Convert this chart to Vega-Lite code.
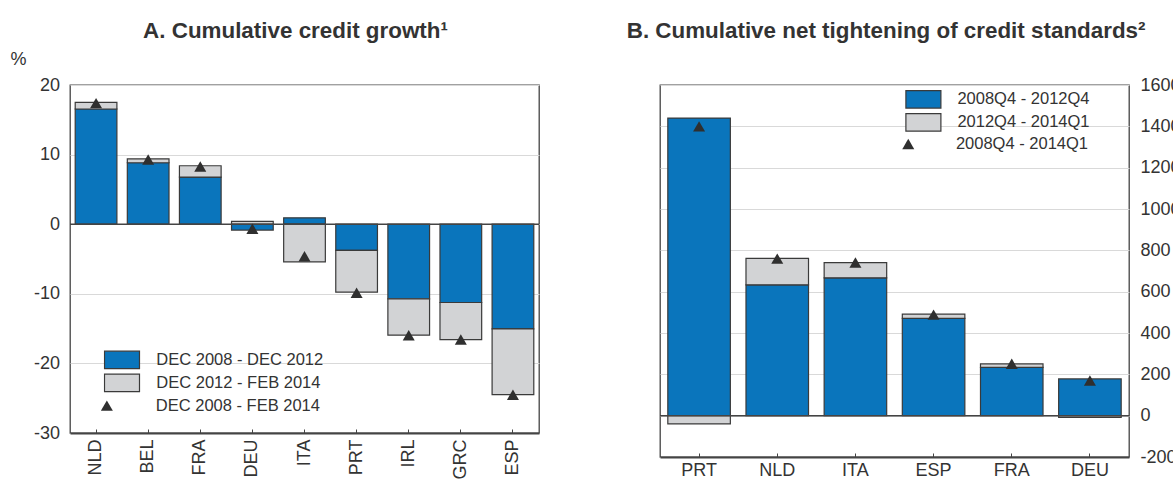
{
  "$schema": "https://vega.github.io/schema/vega-lite/v6.json",
  "background": "white",
  "padding": {"left": 9, "top": 18, "right": 0, "bottom": 0},
  "bounds": "flush",
  "spacing": 121,
  "config": {
    "font": "Liberation Sans",
    "view": {"stroke": "#444444", "strokeWidth": 1.3},
    "axis": {"labelFont": "Liberation Sans", "labelFontSize": 18, "labelColor": "#333333", "titleFont": "Liberation Sans", "gridColor": "#d9d9d9", "gridWidth": 1, "domainColor": "#444444"},
    "title": {"font": "Liberation Sans", "fontSize": 22.4, "fontWeight": "bold", "color": "#333333", "frame": "group"},
    "legend": {"labelFont": "Liberation Sans", "labelFontSize": 16.5, "labelColor": "#333333", "padding": 0, "labelLimit": 400}
  },
  "datasets": {
    "creditBars": [
      {"country": "NLD", "period": "DEC 2008 - DEC 2012", "value": 16.55},
      {"country": "NLD", "period": "DEC 2012 - FEB 2014", "value": 0.95},
      {"country": "BEL", "period": "DEC 2008 - DEC 2012", "value": 8.83},
      {"country": "BEL", "period": "DEC 2012 - FEB 2014", "value": 0.57},
      {"country": "FRA", "period": "DEC 2008 - DEC 2012", "value": 6.77},
      {"country": "FRA", "period": "DEC 2012 - FEB 2014", "value": 1.63},
      {"country": "DEU", "period": "DEC 2008 - DEC 2012", "value": -0.85},
      {"country": "DEU", "period": "DEC 2012 - FEB 2014", "value": 0.4},
      {"country": "ITA", "period": "DEC 2008 - DEC 2012", "value": 0.92},
      {"country": "ITA", "period": "DEC 2012 - FEB 2014", "value": -5.4},
      {"country": "PRT", "period": "DEC 2008 - DEC 2012", "value": -3.77},
      {"country": "PRT", "period": "DEC 2012 - FEB 2014", "value": -6.0},
      {"country": "IRL", "period": "DEC 2008 - DEC 2012", "value": -10.72},
      {"country": "IRL", "period": "DEC 2012 - FEB 2014", "value": -5.23},
      {"country": "GRC", "period": "DEC 2008 - DEC 2012", "value": -11.25},
      {"country": "GRC", "period": "DEC 2012 - FEB 2014", "value": -5.32},
      {"country": "ESP", "period": "DEC 2008 - DEC 2012", "value": -15.04},
      {"country": "ESP", "period": "DEC 2012 - FEB 2014", "value": -9.44}
    ],
    "creditTotals": [
      {"country": "NLD", "series": "DEC 2008 - FEB 2014", "total": 17.4},
      {"country": "BEL", "series": "DEC 2008 - FEB 2014", "total": 9.3},
      {"country": "FRA", "series": "DEC 2008 - FEB 2014", "total": 8.3},
      {"country": "DEU", "series": "DEC 2008 - FEB 2014", "total": -0.65},
      {"country": "ITA", "series": "DEC 2008 - FEB 2014", "total": -4.6},
      {"country": "PRT", "series": "DEC 2008 - FEB 2014", "total": -9.84},
      {"country": "IRL", "series": "DEC 2008 - FEB 2014", "total": -15.95},
      {"country": "GRC", "series": "DEC 2008 - FEB 2014", "total": -16.57},
      {"country": "ESP", "series": "DEC 2008 - FEB 2014", "total": -24.5}
    ],
    "tightBars": [
      {"country": "PRT", "period": "2008Q4 - 2012Q4", "value": 1440},
      {"country": "PRT", "period": "2012Q4 - 2014Q1", "value": -40},
      {"country": "NLD", "period": "2008Q4 - 2012Q4", "value": 633},
      {"country": "NLD", "period": "2012Q4 - 2014Q1", "value": 128},
      {"country": "ITA", "period": "2008Q4 - 2012Q4", "value": 667},
      {"country": "ITA", "period": "2012Q4 - 2014Q1", "value": 74},
      {"country": "ESP", "period": "2008Q4 - 2012Q4", "value": 471},
      {"country": "ESP", "period": "2012Q4 - 2014Q1", "value": 20},
      {"country": "FRA", "period": "2008Q4 - 2012Q4", "value": 234},
      {"country": "FRA", "period": "2012Q4 - 2014Q1", "value": 17},
      {"country": "DEU", "period": "2008Q4 - 2012Q4", "value": 178},
      {"country": "DEU", "period": "2012Q4 - 2014Q1", "value": -8}
    ],
    "tightTotals": [
      {"country": "PRT", "series": "2008Q4 - 2014Q1", "total": 1400},
      {"country": "NLD", "series": "2008Q4 - 2014Q1", "total": 760},
      {"country": "ITA", "series": "2008Q4 - 2014Q1", "total": 741},
      {"country": "ESP", "series": "2008Q4 - 2014Q1", "total": 489},
      {"country": "FRA", "series": "2008Q4 - 2014Q1", "total": 251},
      {"country": "DEU", "series": "2008Q4 - 2014Q1", "total": 170}
    ]
  },
  "hconcat": [
    {
      "width": 469,
      "height": 348,
      "title": {"text": "A. Cumulative credit growth¹", "dx": -9, "offset": 8},
      "layer": [
        {
          "data": {"name": "creditBars"},
          "mark": {"type": "bar", "stroke": "#3a3a3a", "strokeWidth": 1.2},
          "encoding": {
            "x": {"field": "country", "type": "nominal",
                  "scale": {"domain": ["NLD", "BEL", "FRA", "DEU", "ITA", "PRT", "IRL", "GRC", "ESP"], "paddingInner": 0.2, "paddingOuter": 0.1},
                  "axis": {"title": null, "labelAngle": -90, "tickSize": -4, "tickColor": "#444444", "labelPadding": 10, "domain": true, "domainWidth": 2, "grid": false}},
            "y": {"field": "value", "type": "quantitative", "stack": "zero",
                  "scale": {"domain": [-30, 20], "nice": false},
                  "axis": {"values": [-30, -20, -10, 0, 10, 20], "labelExpr": "'' + datum.value", "grid": true, "ticks": false, "domain": false, "labelPadding": 10.5,
                           "title": "%", "titleAngle": 0, "titleX": -60, "titleY": -26, "titleAlign": "left", "titleBaseline": "middle", "titleFontSize": 18, "titleFontWeight": "normal", "titleColor": "#333333"}},
            "color": {"field": "period", "type": "nominal",
                      "scale": {"domain": ["DEC 2008 - DEC 2012", "DEC 2012 - FEB 2014"], "range": ["#0a75bc", "#d2d3d5"]},
                      "legend": {"title": null, "orient": "none", "legendX": 33.5, "legendY": 263.6, "symbolType": "M-1,-0.5H1V0.5H-1Z", "symbolSize": 1225, "symbolStrokeColor": "#3a3a3a", "symbolStrokeWidth": 1.2, "clipHeight": 22.7, "rowPadding": 0, "labelOffset": 15.8}},
            "order": {"field": "period", "sort": "ascending"}
          }
        },
        {
          "data": {"values": [{}]},
          "mark": {"type": "rule", "color": "#444444", "strokeWidth": 1.5},
          "encoding": {"y": {"datum": 0}}
        },
        {
          "data": {"name": "creditTotals"},
          "mark": {"type": "point", "filled": true, "color": "#2f2f2f", "size": 144, "opacity": 1},
          "encoding": {
            "x": {"field": "country", "type": "nominal"},
            "y": {"field": "total", "type": "quantitative"},
            "shape": {"field": "series", "type": "nominal", "scale": {"range": ["triangle-up"]},
                      "legend": {"title": null, "orient": "none", "legendX": 28.6, "legendY": 309.3, "symbolSize": 144, "symbolFillColor": "#2f2f2f", "symbolStrokeWidth": 0, "clipHeight": 22.7, "labelOffset": 40.7}}
          }
        }
      ]
    },
    {
      "width": 469,
      "height": 372,
      "title": {"text": "B. Cumulative net tightening of credit standards²", "dx": -8.4, "offset": 34},
      "layer": [
        {
          "data": {"name": "tightBars"},
          "mark": {"type": "bar", "stroke": "#3a3a3a", "strokeWidth": 1.2},
          "encoding": {
            "x": {"field": "country", "type": "nominal",
                  "scale": {"domain": ["PRT", "NLD", "ITA", "ESP", "FRA", "DEU"], "paddingInner": 0.2, "paddingOuter": 0.1},
                  "axis": {"title": null, "labelAngle": 0, "tickSize": -4, "tickColor": "#444444", "labelPadding": 8.3, "domain": true, "domainWidth": 2, "grid": false}},
            "y": {"field": "value", "type": "quantitative", "stack": "zero",
                  "scale": {"domain": [-200, 1600], "nice": false},
                  "axis": {"orient": "right", "values": [-200, 0, 200, 400, 600, 800, 1000, 1200, 1400, 1600], "labelExpr": "'' + datum.value", "grid": true, "ticks": false, "domain": false, "labelPadding": 11, "title": null}},
            "color": {"field": "period", "type": "nominal",
                      "scale": {"domain": ["2008Q4 - 2012Q4", "2012Q4 - 2014Q1"], "range": ["#0a75bc", "#d2d3d5"]},
                      "legend": {"title": null, "orient": "none", "legendX": 244.9, "legendY": 3, "symbolType": "M-1,-0.5H1V0.5H-1Z", "symbolSize": 1225, "symbolStrokeColor": "#3a3a3a", "symbolStrokeWidth": 1.2, "clipHeight": 22.7, "rowPadding": 0, "labelOffset": 15.5}},
            "order": {"field": "period", "sort": "ascending"}
          }
        },
        {
          "data": {"values": [{}]},
          "mark": {"type": "rule", "color": "#444444", "strokeWidth": 1.5},
          "encoding": {"y": {"datum": 0}}
        },
        {
          "data": {"name": "tightTotals"},
          "mark": {"type": "point", "filled": true, "color": "#2f2f2f", "size": 144, "opacity": 1},
          "encoding": {
            "x": {"field": "country", "type": "nominal"},
            "y": {"field": "total", "type": "quantitative"},
            "shape": {"field": "series", "type": "nominal", "scale": {"range": ["triangle-up"]},
                      "legend": {"title": null, "orient": "none", "legendX": 240, "legendY": 47.6, "symbolSize": 144, "symbolFillColor": "#2f2f2f", "symbolStrokeWidth": 0, "clipHeight": 22.7, "labelOffset": 39.4}}
          }
        }
      ]
    }
  ],
  "resolve": {
    "scale": {"x": "independent", "y": "independent", "color": "independent", "shape": "independent"},
    "legend": {"color": "independent", "shape": "independent"}
  }
}
